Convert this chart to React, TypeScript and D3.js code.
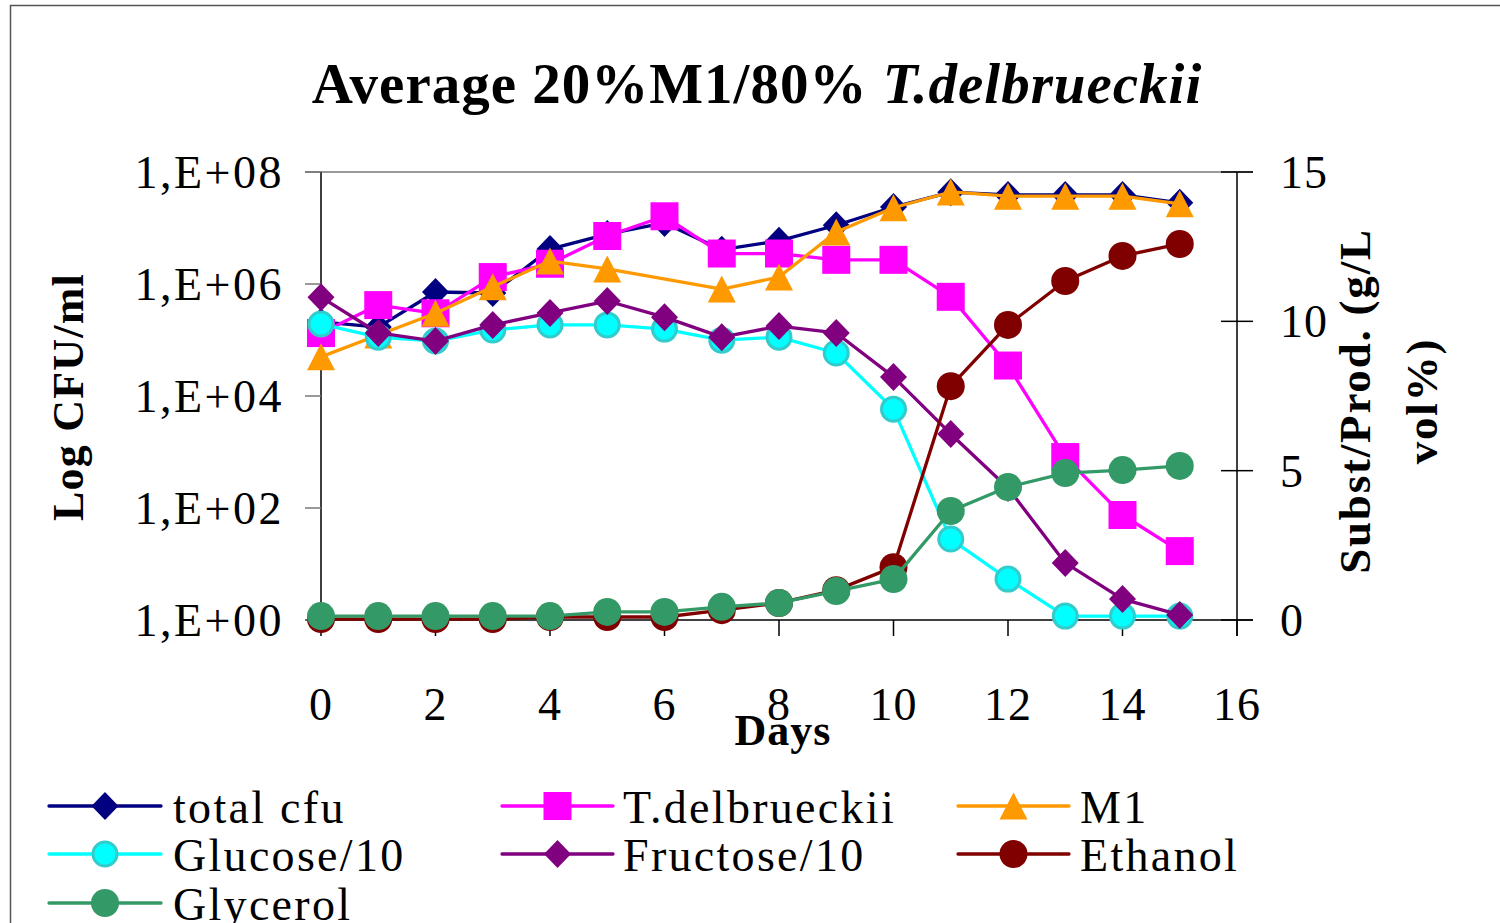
import React from 'react';
import * as d3 from 'd3';

const days = [0, 1, 2, 3, 4, 5, 6, 7, 8, 9, 10, 11, 12, 13, 14, 15];
const totalCfu = [2.1e5, 1.7e5, 7.2e5, 6.9e5, 4.2e6, 7.8e6, 1.23e7, 4.1e6, 5.9e6, 1.12e7, 2.37e7, 4.37e7, 3.9e7, 3.9e7, 3.9e7, 2.82e7];
const tDelbrueckii = [1.33e5, 4.2e5, 3.0e5, 1.33e6, 2.3e6, 7.2e6, 1.62e7, 3.5e6, 3.5e6, 2.7e6, 2.7e6, 5.9e5, 3.5e4, 813, 75, 17];
const m1 = [5.0e4, 1.23e5, 3.0e5, 8.9e5, 2.57e6, 1.86e6, null, 8.1e5, 1.33e6, 8.5e6, 2.3e7, 4.4e7, 3.7e7, 3.7e7, 3.7e7, 2.7e7];
const glucose10 = [9.91, 9.47, 9.34, 9.71, 9.88, 9.88, 9.74, 9.37, 9.47, 8.94, 7.06, 2.71, 1.37, 0.13, 0.13, 0.13];
const fructose10 = [10.81, 9.61, 9.34, 9.88, 10.28, 10.68, 10.14, 9.47, 9.84, 9.61, 8.14, 6.23, 4.42, 1.91, 0.7, 0.17];
const ethanol = [0.03, 0.03, 0.03, 0.03, 0.1, 0.1, 0.1, 0.33, 0.57, 1.0, 1.77, 7.83, 9.88, 11.35, 12.19, 12.59];
const glycerol = [0.13, 0.13, 0.13, 0.13, 0.13, 0.27, 0.27, 0.44, 0.57, 0.97, 1.37, 3.65, 4.45, 4.92, 5.02, 5.16];

const leftTicks = [1, 1e2, 1e4, 1e6, 1e8];
const leftTickLabels = ['1,E+00', '1,E+02', '1,E+04', '1,E+06', '1,E+08'];
const rightTicks = [0, 5, 10, 15];
const xTicks = [0, 2, 4, 6, 8, 10, 12, 14, 16];

const seriesNames = ['total cfu', 'T.delbrueckii', 'M1', 'Glucose/10', 'Fructose/10', 'Ethanol', 'Glycerol'];

type Marker = 'diamond' | 'square' | 'triangle' | 'circle';

const FONT = '"Liberation Serif", "Times New Roman", serif';

function markerPath(kind: Marker): string {
  if (kind === 'diamond') return 'M0,-14L13.5,0L0,14L-13.5,0Z';
  if (kind === 'square') return 'M-14,-14H14V14H-14Z';
  if (kind === 'triangle') return 'M0,-13.5L14,13.5L-14,13.5Z';
  return '';
}

function MarkerShape({ kind, x, y, fill, stroke, r }: { kind: Marker; x: number; y: number; fill: string; stroke?: string; r?: number }) {
  if (kind === 'circle') {
    return <circle cx={x} cy={y} r={r ?? 14} fill={fill} stroke={stroke ?? 'none'} strokeWidth={stroke ? 3 : 0} />;
  }
  return <path d={markerPath(kind)} transform={`translate(${x},${y})`} fill={fill} />;
}

export default function App() {
  const x = d3.scaleLinear().domain([0, 16]).range([321, 1237]);
  const yL = d3.scaleLog().domain([1, 1e8]).range([620, 172]);
  const yR = d3.scaleLinear().domain([0, 15]).range([620, 172]);

  const series = [
    { name: seriesNames[0], values: totalCfu, axis: 'L', color: '#000080', marker: 'diamond' as Marker, fill: '#000080' },
    { name: seriesNames[1], values: tDelbrueckii, axis: 'L', color: '#FF00FF', marker: 'square' as Marker, fill: '#FF00FF' },
    { name: seriesNames[2], values: m1, axis: 'L', color: '#FF9900', marker: 'triangle' as Marker, fill: '#FF9900' },
    { name: seriesNames[3], values: glucose10, axis: 'R', color: '#00FFFF', marker: 'circle' as Marker, fill: '#00FFFF', stroke: '#33CCCC', r: 12 },
    { name: seriesNames[4], values: fructose10, axis: 'R', color: '#800080', marker: 'diamond' as Marker, fill: '#800080' },
    { name: seriesNames[5], values: ethanol, axis: 'R', color: '#800000', marker: 'circle' as Marker, fill: '#800000' },
    { name: seriesNames[6], values: glycerol, axis: 'R', color: '#339966', marker: 'circle' as Marker, fill: '#339966' },
  ];

  const line = d3.line<[number, number]>().x((d) => d[0]).y((d) => d[1]);

  const legendCols = [
    { lineX0: 49, lineX1: 161, textX: 173 },
    { lineX0: 502, lineX1: 613, textX: 623 },
    { lineX0: 958, lineX1: 1069, textX: 1080 },
  ];
  const legendRows = [806, 854, 903];

  return (
    <svg width={1500} height={923} style={{ position: 'absolute', left: 0, top: 0, background: '#fff' }} fontFamily={FONT}>
      <rect x={0} y={0} width={1500} height={923} fill="#fff" />
      <rect x={10.5} y={5.5} width={1500} height={940} fill="none" stroke="#555" strokeWidth={1.5} />

      {/* Title */}
      <text x={757} y={103} textAnchor="middle" fontSize={57} fontWeight="bold" letterSpacing={1}>
        Average 20%M1/80%{' '}
        <tspan fontStyle="italic">T.delbrueckii</tspan>
      </text>

      {/* Plot frame lines */}
      <line x1={305} x2={1253} y1={172} y2={172} stroke="#777" strokeWidth={1.5} />
      <line x1={305} x2={1253} y1={620} y2={620} stroke="#000" strokeWidth={1.5} />
      <line x1={321} x2={321} y1={172} y2={620} stroke="#000" strokeWidth={1.5} />
      <line x1={1237} x2={1237} y1={172} y2={636} stroke="#000" strokeWidth={1.5} />

      {/* Left axis ticks and labels */}
      {leftTicks.map((t, i) => (
        <g key={'lt' + i}>
          <line x1={305} x2={321} y1={yL(t)} y2={yL(t)} stroke="#777" strokeWidth={1.5} />
          <text x={284} y={yL(t) + 16} textAnchor="end" fontSize={46} letterSpacing={2.5}>
            {leftTickLabels[i]}
          </text>
        </g>
      ))}

      {/* Right axis ticks and labels */}
      {rightTicks.map((t, i) => (
        <g key={'rt' + i}>
          <line x1={1221} x2={1253} y1={yR(t)} y2={yR(t)} stroke="#000" strokeWidth={1.5} />
          <text x={1280} y={yR(t) + 16} textAnchor="start" fontSize={46} letterSpacing={1}>
            {t}
          </text>
        </g>
      ))}

      {/* X axis ticks and labels */}
      {xTicks.map((t, i) => (
        <g key={'xt' + i}>
          <line x1={x(t)} x2={x(t)} y1={620} y2={636} stroke="#000" strokeWidth={1.5} />
          <text x={x(t)} y={720} textAnchor="middle" fontSize={46} letterSpacing={1}>
            {t}
          </text>
        </g>
      ))}

      {/* Axis titles */}
      <text x={783} y={745} textAnchor="middle" fontSize={44} fontWeight="bold" letterSpacing={1}>Days</text>
      <text transform="translate(83,397) rotate(-90)" textAnchor="middle" fontSize={44} fontWeight="bold" letterSpacing={1.2}>Log CFU/ml</text>
      <text transform="translate(1370,401) rotate(-90)" textAnchor="middle" fontSize={45} fontWeight="bold" letterSpacing={1.8}>Subst/Prod. (g/L</text>
      <text transform="translate(1437,401) rotate(-90)" textAnchor="middle" fontSize={45} fontWeight="bold" letterSpacing={1.8}>vol%)</text>

      {/* Series */}
      {series.map((s, si) => {
        const yScale = s.axis === 'L' ? yL : yR;
        const pts: [number, number][] = [];
        days.forEach((d, i) => {
          const v = s.values[i];
          if (v !== null && v !== undefined) pts.push([x(d), yScale(v as number)]);
        });
        return (
          <g key={'s' + si}>
            <path d={line(pts) ?? ''} fill="none" stroke={s.color} strokeWidth={3.3} strokeLinejoin="round" />
            {pts.map((p, pi) => (
              <MarkerShape key={pi} kind={s.marker} x={p[0]} y={p[1]} fill={s.fill} stroke={(s as any).stroke} r={(s as any).r} />
            ))}
          </g>
        );
      })}

      {/* Legend */}
      {series.map((s, si) => {
        const col = legendCols[si % 3];
        const cy = legendRows[Math.floor(si / 3)];
        const mx = (col.lineX0 + col.lineX1) / 2;
        return (
          <g key={'lg' + si}>
            <line x1={col.lineX0} x2={col.lineX1} y1={cy} y2={cy} stroke={s.color} strokeWidth={3.3} strokeLinecap="round" />
            <MarkerShape kind={s.marker} x={mx} y={cy} fill={s.fill} stroke={(s as any).stroke} r={(s as any).r} />
            <text x={col.textX} y={cy + 17} fontSize={46} letterSpacing={2.3}>
              {s.name}
            </text>
          </g>
        );
      })}
    </svg>
  );
}
